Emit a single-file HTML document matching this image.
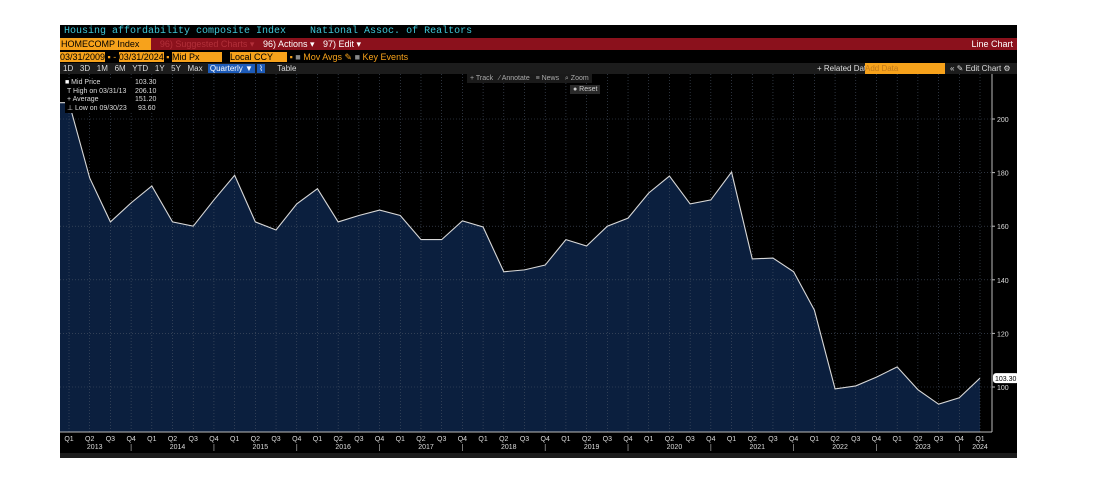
<!DOCTYPE html>
<html><head><meta charset="utf-8"><style>
body{margin:0;width:1093px;height:485px;background:#fff;overflow:hidden;font-family:"Liberation Sans",sans-serif}
#scr{position:absolute;left:60px;top:25px;width:957px;height:433px;background:#000}
.r{position:absolute;left:0;width:957px;font-size:9px;white-space:nowrap}
</style></head><body>
<div id="scr">
 <div class="r" style="top:0;height:13px;color:#3fc6d6;font-family:'Liberation Mono',monospace;font-size:10px;line-height:13px">
  <span style="margin-left:4px">Housing affordability composite Index</span><span style="margin-left:24px">National Assoc. of Realtors</span></div>
 <div class="r" style="top:13px;height:12px;background:#8b111c;color:#fff;line-height:12px">
  <span style="background:#f7a21b;color:#000;padding:0 12px 0 1px;display:inline-block">HOMECOMP Index</span>
  <span style="color:#b2303a;margin-left:6px">96) Suggested Charts ▾</span>
  <span style="margin-left:6px">96) Actions ▾</span>
  <span style="margin-left:6px">97) Edit ▾</span>
  <span style="position:absolute;right:4px">Line Chart</span></div>
 <div class="r" style="top:27px;height:11px;line-height:11px;color:#f7a21b">
  <span style="background:#f7a21b;color:#000">03/31/2009</span> ▪ - <span style="background:#f7a21b;color:#000">03/31/2024</span> ▪
  <span style="background:#f7a21b;color:#000;padding-right:22px">Mid Px</span>
  <span style="background:#f7a21b;color:#000;padding-right:14px;margin-left:6px">Local CCY</span> ▪ <span style="color:#888">■</span> Mov Avgs ✎ <span style="color:#888">■</span> Key Events</div>
 <div class="r" style="top:38px;height:11px;line-height:11px;background:#1c1c1c;color:#ddd;font-size:8px">
  <span style="margin-left:3px">1D &nbsp; 3D &nbsp; 1M &nbsp; 6M &nbsp; YTD &nbsp; 1Y &nbsp; 5Y &nbsp; Max</span>
  <span style="background:#1d5bb8;color:#fff;padding:0 2px;margin-left:3px">Quarterly ▼</span>
  <span style="background:#1d5bb8;color:#fff;padding:0 2px">⌇</span>
  <span style="margin-left:10px">Table</span>
  <span style="position:absolute;left:757px">+ Related Dat</span>
  <span style="position:absolute;left:805px;width:80px;background:#f7a21b;color:#c0781a">Add Data</span>
  <span style="position:absolute;left:890px">« ✎ Edit Chart ⚙</span></div>
</div>
<svg id="chart" width="1093" height="485" style="position:absolute;left:0;top:0"></svg>
<div style="position:absolute;left:467px;top:74px;background:#1a1a1a;color:#aaa;font-size:7px;padding:0 3px;line-height:9px">+ Track &nbsp; ⁄ Annotate &nbsp; ≡ News &nbsp; ⌕ Zoom</div>
<div style="position:absolute;left:570px;top:85px;background:#2a2a2a;color:#ccc;font-size:7px;padding:0 3px;line-height:9px">● Reset</div>
<div style="position:absolute;left:65px;top:79px;width:92px;color:#ddd;font-size:7px;line-height:8.5px;background:#000">
  <div><span style="color:#fff">■</span> Mid Price <span style="position:absolute;left:70px">103.30</span></div>
  <div>&nbsp;T High on 03/31/13 <span style="position:absolute;left:70px">206.10</span></div>
  <div>&nbsp;+ Average <span style="position:absolute;left:70px">151.20</span></div>
  <div>&nbsp;⊥ Low on 09/30/23 <span style="position:absolute;left:73px">93.60</span></div></div>
<script>
const quarters=["Q1","Q2","Q3","Q4"];
const startYear=2013;
const values=[206.1,178,161.6,168.7,175,161.6,160,169.8,179,161.6,158.6,168.3,174,161.6,164,166,164,155,155,162,159.7,143,143.7,145.5,155,152.6,160,163,172.4,178.7,168.3,169.8,180.2,147.8,148.1,143,128.7,99.3,100.4,103.7,107.5,99,93.6,96,103.3];
const yTicks=[100,120,140,160,180,200];
const lastLabel="103.30";
const NS="http://www.w3.org/2000/svg";
const svg=document.getElementById('chart');
const X0=69,X1=980,Y0=432,TOP=74,XL=60;
const x=i=>X0+(X1-X0)*i/(values.length-1);
const y=v=>387-(v-100)*2.68;
function el(t,a,p){const e=document.createElementNS(NS,t);for(const k in a)e.setAttribute(k,a[k]);(p||svg).appendChild(e);return e;}
let d=`M${XL},${Y0}L${XL},${y(values[0])}`;values.forEach((v,i)=>d+=`L${x(i)},${y(v)}`);d+=`L${x(values.length-1)},${Y0}Z`;
const area=el('path',{d,fill:'#0b1f3e'});


const g=el('g',{});


values.forEach((v,i)=>{el('line',{x1:x(i),x2:x(i),y1:TOP,y2:Y0,stroke:'#4a5566','stroke-width':0.6,'stroke-dasharray':'1,2'},g);});
yTicks.forEach(t=>{el('line',{x1:60,x2:992,y1:y(t),y2:y(t),stroke:'#4a5566','stroke-width':0.6,'stroke-dasharray':'1,2'},g);});
const line=el('polyline',{points:`${XL},${y(values[0])} `+values.map((v,i)=>x(i)+','+y(v)).join(' '),fill:'none',stroke:'#d8d8d8','stroke-width':1.1});


el('line',{x1:60,x2:992,y1:Y0,y2:Y0,stroke:'#bbb','stroke-width':1});
el('line',{x1:992,x2:992,y1:TOP,y2:Y0,stroke:'#bbb','stroke-width':1});
yTicks.forEach(t=>{el('line',{x1:992,x2:995,y1:y(t),y2:y(t),stroke:'#bbb'});
 const tx=el('text',{x:997,y:y(t)+3,fill:'#ddd','font-size':7,'font-family':'Liberation Sans'});tx.textContent=t;
 
 });
values.forEach((v,i)=>{const q=el('text',{x:x(i),y:441,fill:'#ddd','font-size':7,'text-anchor':'middle','font-family':'Liberation Sans'});q.textContent=quarters[i%4];
 
 
 if(i%4==1){const yr=el('text',{x:x(i)+5,y:449,fill:'#ddd','font-size':7,'text-anchor':'middle','font-family':'Liberation Sans'});yr.textContent=startYear+Math.floor(i/4);
  
  }
 if(i%4==3)el('line',{x1:x(i),x2:x(i),y1:444,y2:451,stroke:'#aaa','stroke-width':0.7});});
const yl=el('text',{x:x(values.length-1),y:449,fill:'#ddd','font-size':7,'text-anchor':'middle','font-family':'Liberation Sans'});yl.textContent=startYear+Math.floor((values.length-1)/4);


el('rect',{x:60,y:453,width:957,height:5,fill:'#1c1c1c'});
const lv=values[values.length-1];
el('rect',{x:993,y:y(lv)-5,width:26,height:10,rx:3,fill:'#fff'});
const lt=el('text',{x:995,y:y(lv)+3,fill:'#000','font-size':7,'font-family':'Liberation Sans'});lt.textContent=lastLabel;


</script>
</body></html>
